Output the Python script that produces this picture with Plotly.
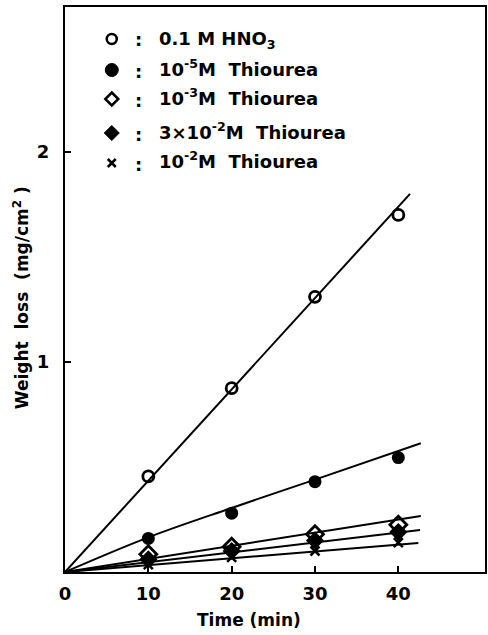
import plotly.graph_objects as go

# ---- data ----
time_pts = [10, 20, 30, 40]
hno3 = [0.455, 0.875, 1.31, 1.70]
thio_1e5 = [0.16, 0.28, 0.43, 0.545]
thio_1e3 = [0.085, 0.12, 0.18, 0.225]
thio_3e2 = [0.06, 0.10, 0.15, 0.19]
thio_1e2 = [0.035, 0.07, 0.10, 0.14]

# fitted lines
fit_hno3_t = [0, 41.4]
fit_hno3_y = [0, 1.80]
fit_1e5_t = [0, 10, 20, 30, 42.7]
fit_1e5_y = [0, 0.165, 0.305, 0.44, 0.613]
fit_1e3_t = [0, 42.7]
fit_1e3_y = [0, 0.267]
fit_3e2_t = [0, 42.6]
fit_3e2_y = [0, 0.20]
fit_1e2_t = [0, 42.4]
fit_1e2_y = [0, 0.138]

x_ticks = [0, 10, 20, 30, 40]
y_ticks = [1, 2]

FONT = "DejaVu Sans"
fig = go.Figure()

line_style = dict(color="black", width=2)
for tx, ty in [(fit_hno3_t, fit_hno3_y), (fit_1e5_t, fit_1e5_y), (fit_1e3_t, fit_1e3_y),
               (fit_3e2_t, fit_3e2_y), (fit_1e2_t, fit_1e2_y)]:
    fig.add_trace(go.Scatter(x=tx, y=ty, mode="lines", line=line_style,
                             line_shape="spline", showlegend=False, hoverinfo="skip"))

fig.add_trace(go.Scatter(x=time_pts, y=hno3, mode="markers", showlegend=False,
                         marker=dict(symbol="circle-open", size=11, color="black", line=dict(width=2.8, color="black"))))
fig.add_trace(go.Scatter(x=time_pts, y=thio_1e5, mode="markers", showlegend=False,
                         marker=dict(symbol="circle", size=13, color="black")))
fig.add_trace(go.Scatter(x=time_pts, y=thio_1e3, mode="markers", showlegend=False,
                         marker=dict(symbol="diamond-open", size=13, color="black", line=dict(width=2.8, color="black"))))
fig.add_trace(go.Scatter(x=time_pts, y=thio_3e2, mode="markers", showlegend=False,
                         marker=dict(symbol="diamond", size=14, color="black")))
fig.add_trace(go.Scatter(x=time_pts, y=thio_1e2, mode="markers", showlegend=False,
                         marker=dict(symbol="x-thin", size=9, color="black", line=dict(width=2.5, color="black"))))

# ---- legend (drawn manually) ----
W, H = 422.0, 565.0
L, T = 65.0, 572.0
def px(x):
    return (x - L) / W
def py(y):
    return (T - y) / H

legend_labels = [
    "0.1 M HNO<sub>3</sub>",
    "10<sup>-5</sup>M  Thiourea",
    "10<sup>-3</sup>M  Thiourea",
    "3×10<sup>-2</sup>M  Thiourea",
    "10<sup>-2</sup>M  Thiourea",
]
row_y = [39, 70, 99, 133, 163]
text_y = [40, 68, 97, 131, 160]
mx = px(112)

shapes = []
def pix_shape(yy, **kw):
    d = dict(xref="paper", yref="paper", xsizemode="pixel", ysizemode="pixel",
             xanchor=mx, yanchor=py(yy))
    d.update(kw)
    return d

shapes.append(pix_shape(row_y[0], type="circle", x0=-5, x1=5, y0=-5, y1=5,
                        line=dict(color="black", width=2.5)))
shapes.append(pix_shape(row_y[1], type="circle", x0=-6.5, x1=6.5, y0=-6.5, y1=6.5,
                        line=dict(color="black", width=1), fillcolor="black"))
shapes.append(pix_shape(row_y[2], type="path", path="M 0 6.5 L 6.5 0 L 0 -6.5 L -6.5 0 Z",
                        line=dict(color="black", width=2.5)))
shapes.append(pix_shape(row_y[3], type="path", path="M 0 7.5 L 7.5 0 L 0 -7.5 L -7.5 0 Z",
                        line=dict(color="black", width=1), fillcolor="black"))
shapes.append(pix_shape(row_y[4], type="path", path="M -4 -4 L 4 4 M -4 4 L 4 -4",
                        line=dict(color="black", width=2.5)))

annotations = []
for lab, ry, ty in zip(legend_labels, row_y, text_y):
    annotations.append(dict(xref="paper", yref="paper", x=px(139), y=py(ry + 1), text=":",
                            showarrow=False, xanchor="center", yanchor="middle",
                            font=dict(family=FONT, size=18, color="black", weight="bold")))
    annotations.append(dict(xref="paper", yref="paper", x=px(157), y=py(ty), text=lab,
                            showarrow=False, xanchor="left", yanchor="middle",
                            font=dict(family=FONT, size=18, color="black", weight="bold")))

annotations.append(dict(xref="paper", yref="paper", x=px(250), y=py(620), text="Time (min)",
                        showarrow=False, xanchor="center", yanchor="middle",
                        font=dict(family=FONT, size=17, color="black", weight="bold")))
annotations.append(dict(xref="paper", yref="paper", x=px(21), y=py(298),
                        text="Weight  loss  (mg/cm<sup>2</sup> )", textangle=-90,
                        showarrow=False, xanchor="center", yanchor="middle",
                        font=dict(family=FONT, size=17, color="black", weight="bold")))

fig.update_layout(
    width=488, height=635,
    margin=dict(l=65, r=1, t=7, b=63),
    paper_bgcolor="white", plot_bgcolor="white",
    font=dict(family=FONT, size=18, color="black", weight="bold"),
    shapes=shapes, annotations=annotations,
    showlegend=False,
)
fig.update_xaxes(range=[0, 50.4], tickvals=x_ticks, showgrid=False, zeroline=False,
                 showline=True, linecolor="black", linewidth=2, mirror=True,
                 ticks="inside", ticklen=6, tickwidth=1.5, tickcolor="black",
                 ticklabelstandoff=4)
fig.update_yaxes(range=[0, 2.69], tickvals=y_ticks, showgrid=False, zeroline=False,
                 showline=True, linecolor="black", linewidth=2, mirror=True,
                 ticks="inside", ticklen=6, tickwidth=1.5, tickcolor="black",
                 ticklabelstandoff=10)

fig.write_html("out.html")
